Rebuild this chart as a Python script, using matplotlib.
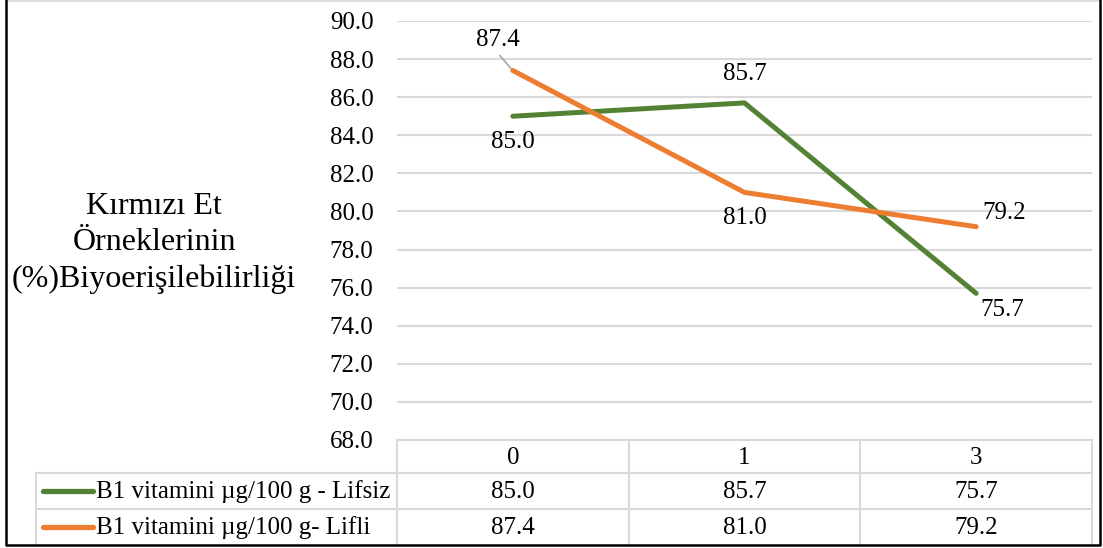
import matplotlib
matplotlib.use("Agg")
import matplotlib.pyplot as plt
from matplotlib.lines import Line2D

categories = ["0", "1", "3"]
series_names = ["B1 vitamini µg/100 g - Lifsiz", "B1 vitamini µg/100 g- Lifli"]
lifsiz = [85.0, 85.7, 75.7]
lifli = [87.4, 81.0, 79.2]
y_ticks = [68.0, 70.0, 72.0, 74.0, 76.0, 78.0, 80.0, 82.0, 84.0, 86.0, 88.0, 90.0]
y_label = "Kırmızı Et\nÖrneklerinin\n(%)Biyoerişilebilirliği"

colors = ["#548235", "#ED7D31"]
grid_c = "#d9d9d9"
W, H = 1103, 548
FONT = ["Liberation Serif", "DejaVu Serif"]
FS = 18

plt.rcParams["font.family"] = FONT

fig = plt.figure(figsize=(W / 100, H / 100), dpi=100)


def fx(px):
    return px / W


def fy(py):
    return 1 - py / H


# plot area
left, right, top, bottom = 397, 1092, 21, 440
ax = fig.add_axes([fx(left), fy(bottom), fx(right - left), (bottom - top) / H])
x = list(range(len(categories)))
ax.set_xlim(-0.5, len(categories) - 0.5)
ax.set_ylim(y_ticks[0], y_ticks[-1])
ax.set_yticks(y_ticks)
ax.set_yticklabels([f"{v:.1f}" for v in y_ticks], fontsize=FS)
ax.tick_params(axis="y", length=0, pad=17)
ax.set_xticks([])
for s in ax.spines.values():
    s.set_visible(False)
ax.yaxis.grid(True, color=grid_c, lw=1.5)
ax.set_axisbelow(True)

series = [lifsiz, lifli]
for vals, c in zip(series, colors):
    ax.plot(x, vals, color=c, lw=3.6, solid_capstyle="round", solid_joinstyle="round", zorder=3)

# data labels (offsets in pixels)
off_lifsiz = [(0, -26), (0, 29), (26, -17)]
off_lifli = [(-15, 31), (0, -26), (28, 14)]
for vals, offs in zip(series, [off_lifsiz, off_lifli]):
    for xi, v, o in zip(x, vals, offs):
        ax.annotate(f"{v:.1f}", (xi, v), xytext=o, textcoords="offset pixels",
                    ha="center", va="center", fontsize=FS, color="black", zorder=4)
# leader line for first orange label
ax.annotate("", (x[0], lifli[0]), xytext=(-13, 15), textcoords="offset pixels",
            arrowprops=dict(arrowstyle="-", color="#a6a6a6", lw=1.2, shrinkA=0, shrinkB=2))

# y label
fig.text(fx(154), fy(243), y_label, ha="center", va="center", fontsize=23,
         linespacing=1.33)

# data table
col_edges = [left + i * (right - left) / len(categories) for i in range(len(categories) + 1)]
row_edges = [440, 473, 509, 545]
tl_left = 36
lines = []
lines.append(((col_edges[0], row_edges[0]), (col_edges[-1], row_edges[0])))
for r in row_edges[1:3]:
    lines.append(((tl_left, r), (col_edges[-1], r)))
for cx in col_edges:
    lines.append(((cx, row_edges[0]), (cx, row_edges[-1])))
lines.append(((tl_left, row_edges[1]), (tl_left, row_edges[-1])))
for (x0, y0), (x1, y1) in lines:
    fig.add_artist(Line2D([fx(x0), fx(x1)], [fy(y0), fy(y1)], color=grid_c, lw=1.5,
                          transform=fig.transFigure))

for i, cat in enumerate(categories):
    cx = (col_edges[i] + col_edges[i + 1]) / 2
    fig.text(fx(cx), fy((row_edges[0] + row_edges[1]) / 2 + 1), cat, ha="center", va="center",
             fontsize=FS)
for r, (name, vals, c) in enumerate(zip(series_names, series, colors)):
    cy = (row_edges[r + 1] + row_edges[r + 2]) / 2
    fig.add_artist(Line2D([fx(43), fx(93)], [fy(cy), fy(cy)], color=c, lw=3.8,
                          solid_capstyle="round", transform=fig.transFigure))
    fig.text(fx(96), fy(cy + 1), name, ha="left", va="center", fontsize=FS)
    for i, v in enumerate(vals):
        cx = (col_edges[i] + col_edges[i + 1]) / 2
        fig.text(fx(cx), fy(cy + 1), f"{v:.1f}", ha="center", va="center", fontsize=FS)

# figure border
fig.add_artist(Line2D([fx(7), fx(1100)], [fy(0.5), fy(0.5)], color=grid_c, lw=1.2,
                      transform=fig.transFigure))
fig.add_artist(Line2D([fx(6), fx(6), fx(1100), fx(1100)], [fy(0), fy(545), fy(545), fy(0)],
                      color="black", lw=1.8, transform=fig.transFigure))

fig.savefig("out.png", dpi=100, facecolor="white")
